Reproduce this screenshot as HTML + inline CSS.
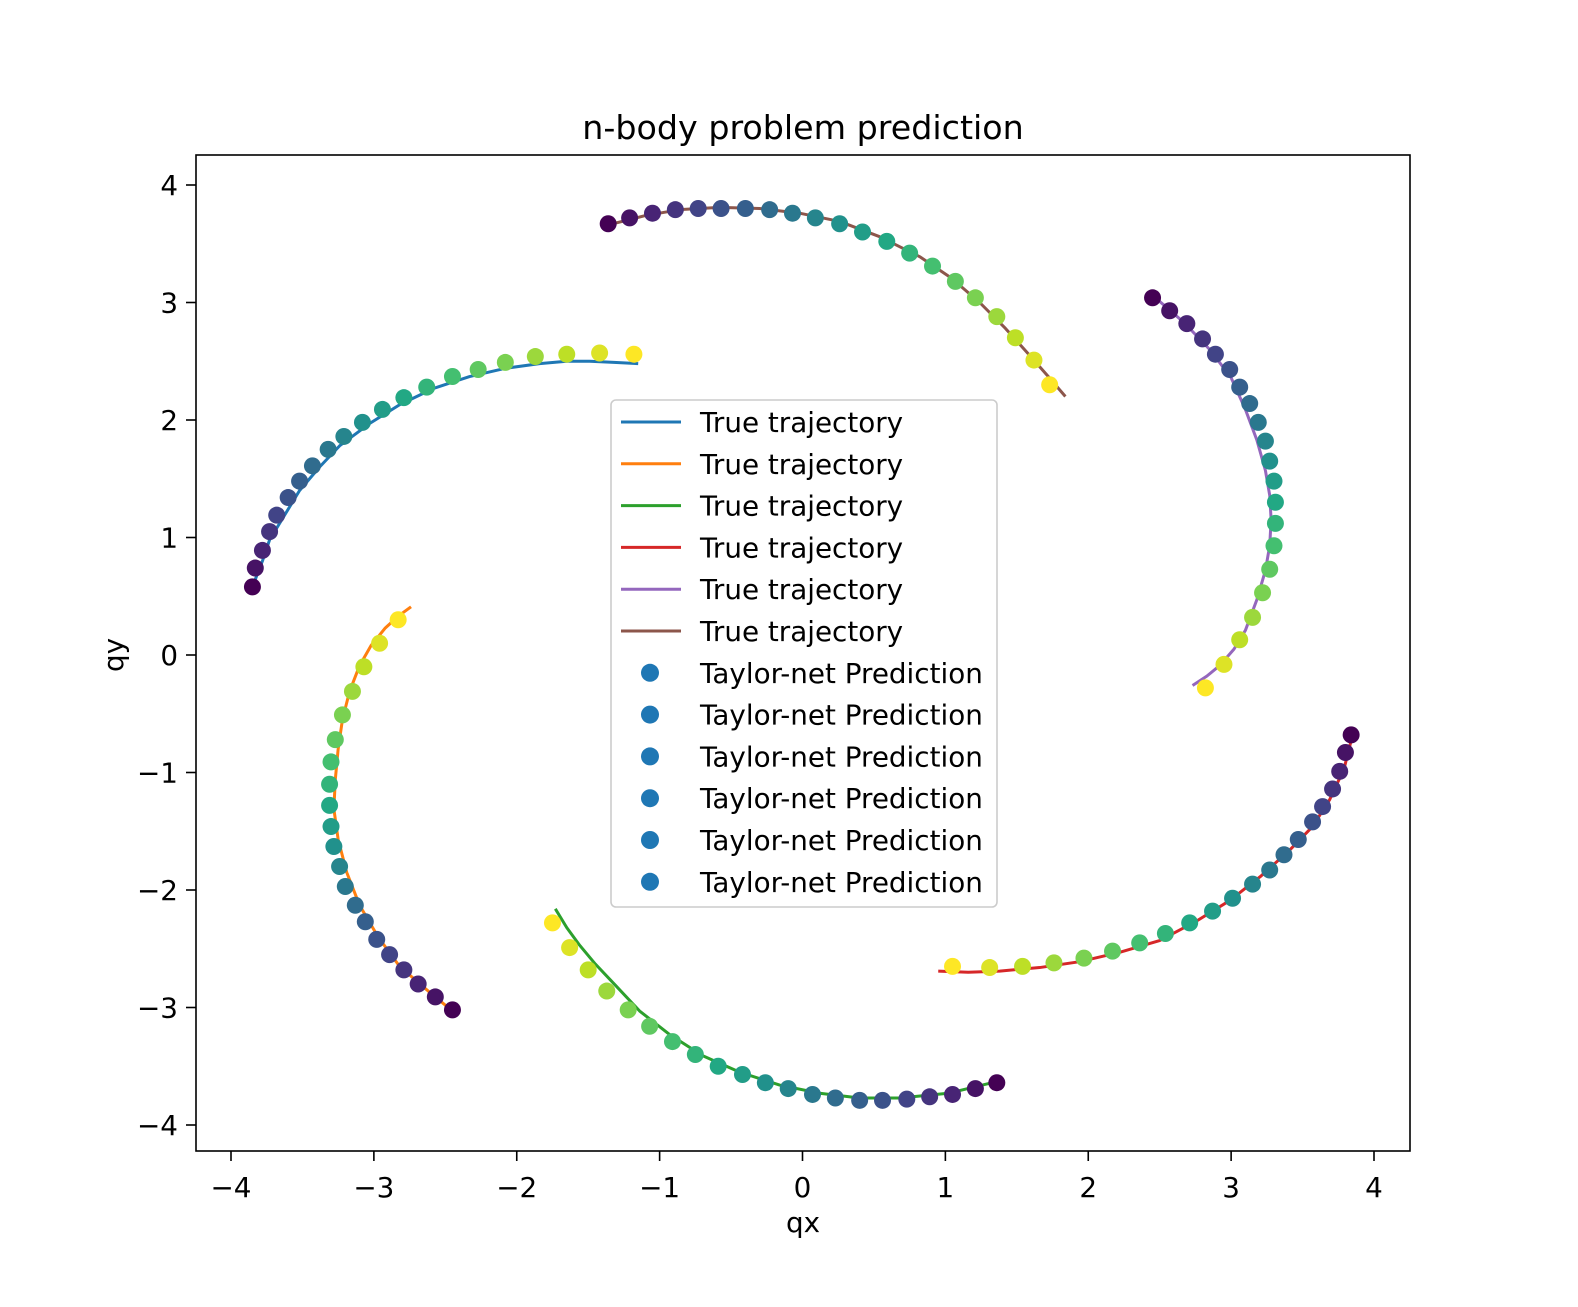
<!DOCTYPE html>
<html><head><meta charset="utf-8"><style>
body{margin:0;background:#fff}
svg text{font-family:"DejaVu Sans","Liberation Sans",sans-serif;fill:#000}
</style></head><body>
<svg id="chart" width="1578" height="1302" viewBox="0 0 1578 1302" xmlns="http://www.w3.org/2000/svg">
<rect width="1578" height="1302" fill="#fff"/>
<text x="803" y="139" font-size="33.3" text-anchor="middle">n-body problem prediction</text>
<g id="marks"></g>
<rect x="196" y="155" width="1214" height="996" fill="none" stroke="#000" stroke-width="1.6"/>
<g id="axes"></g>
<text x="803" y="1232" font-size="27.8" text-anchor="middle">qx</text>
<text x="0" y="0" font-size="27.8" text-anchor="middle" transform="translate(123,655) rotate(-90)">qy</text>
<g id="legend"></g>
</svg>
<script>
const xTicks=[-4,-3,-2,-1,0,1,2,3,4];
const yTicks=[-4,-3,-2,-1,0,1,2,3,4];
const tickLabels=["\u22124","\u22123","\u22122","\u22121","0","1","2","3","4"];
const seriesColors=["#1f77b4","#ff7f0e","#2ca02c","#d62728","#9467bd","#8c564b"];
const body1PredX=[-3.85,-3.83,-3.78,-3.73,-3.68,-3.60,-3.52,-3.43,-3.32,-3.21,-3.08,-2.94,-2.79,-2.63,-2.45,-2.27,-2.08,-1.87,-1.65,-1.42,-1.18];
const body1PredY=[0.58,0.74,0.89,1.05,1.19,1.34,1.48,1.61,1.75,1.86,1.98,2.09,2.19,2.28,2.37,2.43,2.49,2.54,2.56,2.57,2.56];
const body1TrueX=[-3.85,-3.78,-3.73,-3.62,-3.52,-3.38,-3.24,-3.03,-2.82,-2.58,-2.33,-2.08,-1.84,-1.65,-1.49,-1.32,-1.15];
const body1TrueY=[0.58,0.80,0.98,1.20,1.40,1.60,1.78,1.97,2.13,2.27,2.37,2.44,2.48,2.50,2.50,2.49,2.48];
const body2PredX=[-2.45,-2.57,-2.69,-2.79,-2.89,-2.98,-3.06,-3.13,-3.20,-3.24,-3.28,-3.30,-3.31,-3.31,-3.30,-3.27,-3.22,-3.15,-3.07,-2.96,-2.83];
const body2PredY=[-3.02,-2.91,-2.80,-2.68,-2.55,-2.42,-2.27,-2.13,-1.97,-1.80,-1.63,-1.46,-1.28,-1.10,-0.91,-0.72,-0.51,-0.31,-0.10,0.10,0.30];
const body2TrueX=[-2.43,-2.62,-2.82,-2.97,-3.10,-3.19,-3.25,-3.28,-3.27,-3.25,-3.22,-3.17,-3.10,-3.02,-2.92,-2.83,-2.74];
const body2TrueY=[-3.05,-2.86,-2.65,-2.40,-2.13,-1.85,-1.57,-1.31,-1.06,-0.80,-0.55,-0.31,-0.09,0.08,0.23,0.33,0.41];
const body3PredX=[1.36,1.21,1.05,0.89,0.73,0.56,0.40,0.23,0.07,-0.10,-0.26,-0.42,-0.59,-0.75,-0.91,-1.07,-1.22,-1.37,-1.50,-1.63,-1.75];
const body3PredY=[-3.64,-3.69,-3.74,-3.76,-3.78,-3.79,-3.79,-3.77,-3.74,-3.69,-3.64,-3.57,-3.50,-3.40,-3.29,-3.16,-3.02,-2.86,-2.68,-2.49,-2.28];
const body3TrueX=[1.36,1.02,0.68,0.40,0.12,-0.16,-0.44,-0.70,-0.93,-1.14,-1.31,-1.45,-1.56,-1.65,-1.73];
const body3TrueY=[-3.63,-3.73,-3.77,-3.77,-3.73,-3.66,-3.55,-3.41,-3.23,-3.03,-2.81,-2.63,-2.47,-2.32,-2.16];
const body4PredX=[3.84,3.80,3.76,3.71,3.64,3.57,3.47,3.37,3.27,3.15,3.01,2.87,2.71,2.54,2.36,2.17,1.97,1.76,1.54,1.31,1.05];
const body4PredY=[-0.68,-0.83,-0.99,-1.14,-1.29,-1.42,-1.57,-1.70,-1.83,-1.95,-2.07,-2.18,-2.28,-2.37,-2.45,-2.52,-2.58,-2.62,-2.65,-2.66,-2.65];
const body4TrueX=[3.85,3.79,3.69,3.57,3.41,3.21,2.99,2.75,2.50,2.22,1.94,1.66,1.38,1.16,0.95];
const body4TrueY=[-0.68,-0.97,-1.23,-1.46,-1.66,-1.88,-2.09,-2.27,-2.43,-2.53,-2.61,-2.66,-2.69,-2.70,-2.69];
const body5PredX=[2.45,2.57,2.69,2.80,2.89,2.99,3.06,3.13,3.19,3.24,3.27,3.30,3.31,3.31,3.30,3.27,3.22,3.15,3.06,2.95,2.82];
const body5PredY=[3.04,2.93,2.82,2.69,2.56,2.43,2.28,2.14,1.98,1.82,1.65,1.48,1.30,1.12,0.93,0.73,0.53,0.32,0.13,-0.08,-0.28];
const body5TrueX=[2.47,2.67,2.85,3.00,3.10,3.18,3.24,3.27,3.28,3.27,3.24,3.18,3.10,3.02,2.92,2.83,2.73];
const body5TrueY=[3.04,2.83,2.60,2.36,2.09,1.83,1.57,1.36,1.15,0.93,0.72,0.47,0.21,0.05,-0.09,-0.18,-0.26];
const body6PredX=[-1.36,-1.21,-1.05,-0.89,-0.73,-0.57,-0.40,-0.23,-0.07,0.09,0.26,0.42,0.59,0.75,0.91,1.07,1.21,1.36,1.49,1.62,1.73];
const body6PredY=[3.67,3.72,3.76,3.79,3.80,3.80,3.80,3.79,3.76,3.72,3.67,3.60,3.52,3.42,3.31,3.18,3.04,2.88,2.70,2.51,2.30];
const body6TrueX=[-1.36,-1.10,-0.86,-0.58,-0.30,-0.02,0.26,0.54,0.82,1.04,1.24,1.42,1.59,1.72,1.84];
const body6TrueY=[3.66,3.74,3.79,3.81,3.80,3.76,3.69,3.56,3.39,3.21,3.00,2.78,2.55,2.37,2.20];
const legendLabels=["True trajectory","Taylor-net Prediction"];

const NS="http://www.w3.org/2000/svg";
const sx=v=>802.5+v*142.875;
const sy=v=>655-v*117.5;
const vir=["#440154","#482475","#414487","#355f8d","#2a788e","#21918c","#22a884","#44bf70","#7ad151","#bddf26","#fde725"];
function viridis(t){const p=t*10,i=Math.min(9,Math.floor(p)),f=p-i;
 const a=vir[i],b=vir[i+1];const c=k=>Math.round(parseInt(a.substr(k,2),16)*(1-f)+parseInt(b.substr(k,2),16)*f);
 return `rgb(${c(1)},${c(3)},${c(5)})`;}
function mk(tag,attrs,parent){const e=document.createElementNS(NS,tag);for(const k in attrs)e.setAttribute(k,attrs[k]);parent.appendChild(e);return e;}
const marks=document.getElementById('marks');
const bodies=[[body1PredX,body1PredY,body1TrueX,body1TrueY],[body2PredX,body2PredY,body2TrueX,body2TrueY],[body3PredX,body3PredY,body3TrueX,body3TrueY],[body4PredX,body4PredY,body4TrueX,body4TrueY],[body5PredX,body5PredY,body5TrueX,body5TrueY],[body6PredX,body6PredY,body6TrueX,body6TrueY]];
bodies.forEach((b,bi)=>{
 const pts=b[2].map((x,i)=>sx(x)+","+sy(b[3][i])).join(" ");
 const l=mk('polyline',{points:pts,fill:'none',stroke:seriesColors[bi],'stroke-width':3,'stroke-linejoin':'round'},marks);
 
 
});
bodies.forEach((b,bi)=>{
 const n=b[0].length;
 b[0].forEach((x,i)=>{
  const c=mk('circle',{cx:sx(x),cy:sy(b[1][i]),r:8.5,fill:viridis(i/(n-1))},marks);
  
  
 });
});
const axes=document.getElementById('axes');
xTicks.forEach((v,i)=>{
 const t=mk('line',{x1:sx(v),x2:sx(v),y1:1151,y2:1161,stroke:'#000','stroke-width':1.6},axes);
 
 
 const tx=mk('text',{x:sx(v),y:1197,'font-size':27.8,'text-anchor':'middle'},axes);tx.textContent=tickLabels[i];
 
 
});
yTicks.forEach((v,i)=>{
 const t=mk('line',{x1:186,x2:196,y1:sy(v),y2:sy(v),stroke:'#000','stroke-width':1.6},axes);
 
 
 const tx=mk('text',{x:178,y:sy(v)+10,'font-size':27.8,'text-anchor':'end'},axes);tx.textContent=tickLabels[i];
 
 
});
const lg=document.getElementById('legend');
const box=mk('rect',{x:611,y:400,width:386,height:507,rx:5,fill:'#fff','fill-opacity':0.8,stroke:'#ccc','stroke-width':1.6},lg);


for(let r=0;r<12;r++){
 const y=422+r*41.8;
 if(r<6){
  const l=mk('line',{x1:621,x2:681,y1:y,y2:y,stroke:seriesColors[r],'stroke-width':3},lg);
  
  
 } else {
  const c=mk('circle',{cx:650,cy:y,r:9,fill:'#1f77b4'},lg);
  
  
 }
 const t=mk('text',{x:700,y:y+10,'font-size':27.8},lg);t.textContent=legendLabels[r<6?0:1];
 
 
}
</script>
</body></html>
